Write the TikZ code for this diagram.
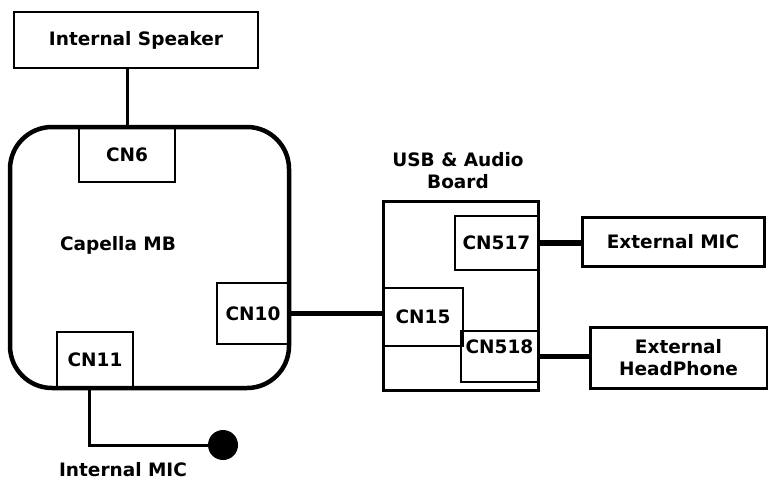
\documentclass[tikz,border=0pt]{standalone}
\usepackage{fontspec}
\setmainfont{DejaVu Sans}
\begin{document}
\begin{tikzpicture}[x=1pt,y=-1pt,
  every node/.style={font=\bfseries\fontsize{18.5}{22}\selectfont, inner sep=0pt},
  conbox/.style={draw, line width=1.3pt},
  extbox/.style={draw, line width=3pt},
  wire/.style={line width=5.5pt},
  thinwire/.style={line width=3pt}]
\useasboundingbox (0,0) rectangle (768,487);
\node[draw, line width=2pt, minimum width=244, minimum height=56] (spk) at (136,40) {Internal Speaker};
\node[draw, line width=4.5pt, rounded corners=42pt, minimum width=279, minimum height=261] (mb) at (149.5,257.5) {};
\node (mblabel) at (118,245) {Capella MB};
\node[conbox, minimum width=96, minimum height=55] (cn6) at (127,154.5) {CN6};
\node[conbox, minimum width=76, minimum height=56] (cn11) at (95,360) {CN11};
\node[conbox, minimum width=72, minimum height=61] (cn10) at (253,313.5) {CN10};
\node[draw, line width=3pt, minimum width=155, minimum height=189] (usb) at (460.5,295.5) {};
\node[align=center] (usblabel) at (458,171) {USB \& Audio\\Board};
\node[conbox, minimum width=83, minimum height=54] (cn517) at (496.5,243) {CN517};
\node[conbox, minimum width=77, minimum height=51, text depth=20pt] (cn518) at (499.5,356.5) {CN518};
\node[conbox, minimum width=80, minimum height=58] (cn15) at (423,317) {CN15};
\node[extbox, minimum width=182, minimum height=49] (extmic) at (673,241.5) {External MIC};
\node[extbox, minimum width=177, minimum height=61, align=center] (hp) at (678.5,357.5) {External\\HeadPhone};
\node[circle, fill=black, minimum size=30] (mic) at (223,445) {};
\node (miclabel) at (123,470) {Internal MIC};
\draw[thinwire] (cn6.north) -- (cn6.north |- spk.south);
\draw[wire] (cn10.east) -- (cn10.east -| cn15.west);
\draw[wire] (cn517.east) -- (cn517.east -| extmic.west);
\draw[wire] (cn518.east) -- (cn518.east -| hp.west);
\draw[thinwire] ([xshift=-6pt]cn11.south) |- (mic);
\end{tikzpicture}
\end{document}
